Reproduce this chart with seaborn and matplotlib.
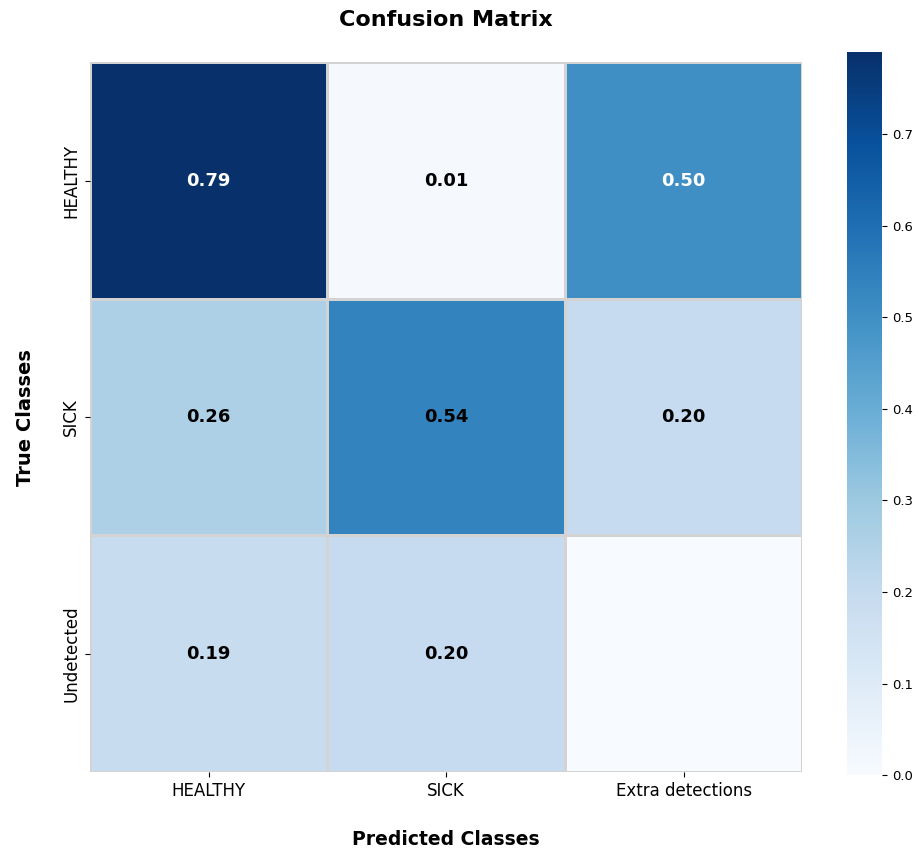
import numpy as np
import seaborn as sns
import matplotlib.pyplot as plt

# Confusion matrix values (rows = true, cols = predicted)
classes_true = ["HEALTHY", "SICK", "Undetected"]
classes_pred = ["HEALTHY", "SICK", "Extra detections"]
row_healthy = [0.79, 0.01, 0.50]
row_sick = [0.26, 0.54, 0.20]
row_undetected = [0.19, 0.20, 0.00]

cm = np.array([row_healthy, row_sick, row_undetected])
labels = np.array([[f"{v:.2f}" if v > 0 else "" for v in row] for row in cm])

fig = plt.figure(figsize=(9.19, 8.48), dpi=100)
ax = fig.add_axes([0.098, 0.0896, 0.775, 0.837])
cax = fig.add_axes([0.9217, 0.086, 0.038, 0.853])

sns.heatmap(cm, annot=labels, fmt="", cmap="Blues", vmin=0, vmax=cm.max(),
            linewidths=2, linecolor="lightgray", ax=ax, cbar_ax=cax,
            xticklabels=classes_pred, yticklabels=classes_true,
            annot_kws={"fontsize": 13, "fontweight": "bold"})

# text colours as in the reference
white_cells = {(0, 0), (0, 2)}
cells = [(i, j) for i in range(3) for j in range(3) if labels[i, j]]
for t, (i, j) in zip(ax.texts, cells):
    t.set_color("white" if (i, j) in white_cells else "black")

ax.set_title("Confusion Matrix", fontsize=16, fontweight="bold", pad=26)
ax.set_xlabel("Predicted Classes", fontsize=13.5, fontweight="bold", labelpad=22)
ax.set_ylabel("True Classes", fontsize=14, fontweight="bold", labelpad=20)
ax.tick_params(axis="both", labelsize=12)
for lbl in ax.get_yticklabels():
    lbl.set_rotation(90)
    lbl.set_va("center")
cax.tick_params(labelsize=9.5)
for s in cax.spines.values():
    s.set_visible(False)

fig.savefig("out.png", dpi=100)
